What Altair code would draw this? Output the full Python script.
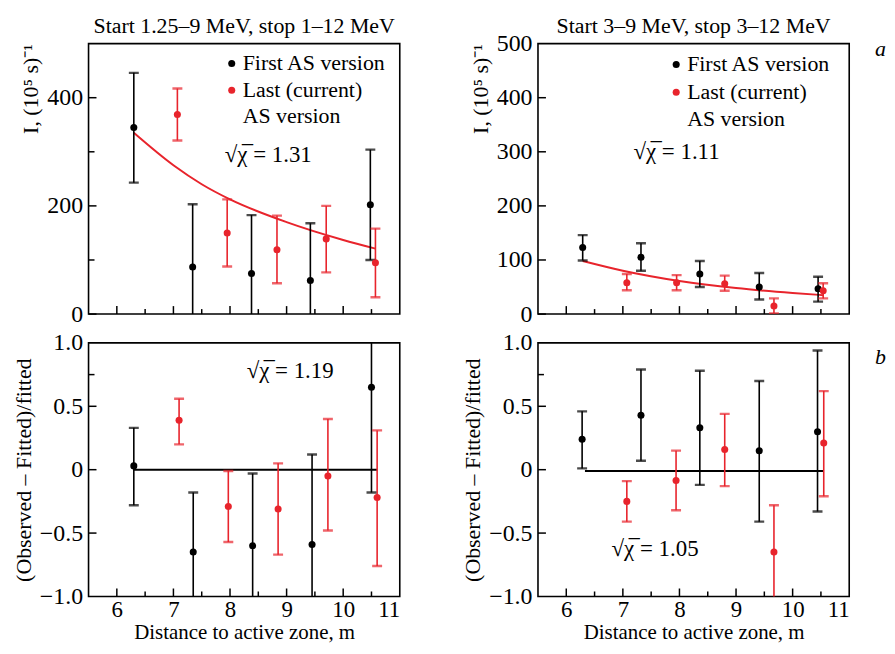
import altair as alt
import pandas as pd

FONT = "Liberation Serif, Times New Roman, Times, serif"
RED = "#e8242c"
W = 313
H_TOP = 272
H_BOT = 255

# ---------------- data ----------------
series_names = ["First", "Last"]
titles = ["Start 1.25\u20139 MeV, stop 1\u201312 MeV", "Start 3\u20139 MeV, stop 3\u201312 MeV"]
legend_labels = ["First AS version", "Last (current)", "AS version"]
chi_texts = ["\u221a\u03c7\u0305 = 1.31", "\u221a\u03c7\u0305 = 1.11", "\u221a\u03c7\u0305 = 1.19", "\u221a\u03c7\u0305 = 1.05"]
panel_letters = ["a", "b"]
ytitle_top = "I, (10\u2075 s)\u207b\u00b9"
ytitle_bot = "(Observed \u2013 Fitted)/fitted"
xtitle = "Distance to active zone, m"

x_major = [6, 7, 8, 9, 10]
x_minor = [6.5, 7.5, 8.5, 9.5, 10.5]
x_labels = [6, 7, 8, 9, 10, 11]

# top-left
tl_bx = [6.30, 7.34, 8.38, 9.42, 10.48]
tl_by = [345, 87, 75, 62, 202]
tl_blo = [243, -29, -33, -44, 100]
tl_bhi = [446, 203, 183, 168, 304]
tl_rx = [7.07, 7.95, 8.83, 9.70, 10.57]
tl_ry = [369, 150, 119, 139, 95]
tl_rlo = [321, 88, 57, 77, 31]
tl_rhi = [417, 212, 182, 200, 158]
tl_fit_x = [6.30, 7.0, 7.5, 8.0, 9.0, 10.0, 10.57]
tl_fit_y = [335, 275, 240, 212, 170, 137, 121]
tl_ylabels = [0, 200, 400]
tl_ymajor = [0, 200, 400]
tl_yminor = [100, 300]

# top-right
tr_bx = [6.29, 7.32, 8.36, 9.41, 10.45]
tr_by = [123, 105, 74, 50, 47]
tr_blo = [99, 80, 50, 27, 23]
tr_bhi = [146, 131, 98, 76, 69]
tr_rx = [7.07, 7.95, 8.80, 9.67, 10.54]
tr_ry = [58, 58, 56, 15, 43]
tr_rlo = [44, 44, 43, 1, 29]
tr_rhi = [74, 72, 71, 29, 57]
tr_fit_x = [6.29, 7.0, 8.0, 9.0, 10.0, 10.54]
tr_fit_y = [98, 80, 61, 48, 39, 35]
tr_ylabels = [0, 100, 200, 300, 400, 500]
tr_ymajor = [0, 100, 200, 300, 400]
tr_yminor = []

# bottom-left
bl_bx = [6.30, 7.35, 8.40, 9.45, 10.50]
bl_by = [0.03, -0.65, -0.60, -0.59, 0.65]
bl_blo = [-0.28, -1.12, -1.17, -1.30, -0.18]
bl_bhi = [0.33, -0.18, -0.03, 0.12, 1.48]
bl_rx = [7.10, 7.97, 8.85, 9.73, 10.60]
bl_ry = [0.39, -0.29, -0.31, -0.05, -0.22]
bl_rlo = [0.20, -0.57, -0.67, -0.48, -0.76]
bl_rhi = [0.56, -0.01, 0.05, 0.40, 0.31]
bl_zero_x = [6.30, 10.60]
bl_zero_y = [0.0, 0.0]

# bottom-right
br_bx = [6.28, 7.32, 8.36, 9.41, 10.44]
br_by = [0.24, 0.43, 0.33, 0.15, 0.30]
br_blo = [0.01, 0.07, -0.12, -0.41, -0.33]
br_bhi = [0.46, 0.79, 0.78, 0.70, 0.94]
br_rx = [7.07, 7.94, 8.80, 9.67, 10.55]
br_ry = [-0.25, -0.085, 0.16, -0.65, 0.21]
br_rlo = [-0.41, -0.32, -0.13, -1.02, -0.21]
br_rhi = [-0.09, 0.15, 0.44, -0.28, 0.62]
br_zero_x = [6.33, 10.55]
br_zero_y = [-0.01, -0.01]

bot_ylabels = [-1.0, -0.5, 0.0, 0.5, 1.0]
bot_ymajor = [-0.5, 0.0, 0.5]
bot_yminor = [0.75]


def make_df(bx, by, blo, bhi, rx, ry, rlo, rhi):
    rows = []
    for x, y, l, h in zip(bx, by, blo, bhi):
        rows.append(dict(x=x, y=y, lo=l, hi=h, s=series_names[0]))
    for x, y, l, h in zip(rx, ry, rlo, rhi):
        rows.append(dict(x=x, y=y, lo=l, hi=h, s=series_names[1]))
    return pd.DataFrame(rows)


color = alt.Color("s:N", scale=alt.Scale(domain=series_names, range=["black", RED]), legend=None)


def panel(df, line_x, line_y, line_color, ydom, ylabels, ymajor, yminor, height,
          ytitle, anchor, show_x, labelexpr, texts, legend, letter):
    xs = alt.Scale(domain=[5.5, 11], nice=False, zero=False)
    ys = alt.Scale(domain=ydom, nice=False, zero=False)
    if show_x:
        xaxis = alt.Axis(values=x_labels, ticks=False, domain=False, grid=False,
                         labelPadding=2, labelFontSize=23, title=xtitle, titlePadding=0,
                         titleFontSize=21, format="d")
    else:
        xaxis = None
    yaxis = alt.Axis(values=ylabels, ticks=False, domain=False, grid=False,
                     labelPadding=6, title=ytitle, titleAnchor=anchor, titlePadding=4,
                     labelExpr=labelexpr)

    def X(f):
        return alt.X(f, type="quantitative", scale=xs, axis=xaxis)

    def Y(f):
        return alt.Y(f, type="quantitative", scale=ys, axis=yaxis)

    base = alt.Chart(df)
    layers = []
    ldf = pd.DataFrame({"x": line_x, "y": line_y})
    layers.append(alt.Chart(ldf).mark_line(color=line_color, strokeWidth=2, interpolate="monotone",
                                            clip=True).encode(x=X("x"), y=Y("y")))
    layers.append(base.mark_rule(clip=True, strokeWidth=1.6).encode(x=X("x"), y=Y("lo"), y2="hi:Q", color=color))
    layers.append(base.mark_tick(clip=True, orient="horizontal", size=10, thickness=2.4).encode(
        x=X("x"), y=Y("lo"), color=color))
    layers.append(base.mark_tick(clip=True, orient="horizontal", size=10, thickness=2.4).encode(
        x=X("x"), y=Y("hi"), color=color))
    layers.append(base.mark_circle(size=50, opacity=1, clip=True).encode(x=X("x"), y=Y("y"), color=color))

    # inside ticks
    layers.append(alt.Chart(pd.DataFrame({"v": x_major})).mark_rule(color="black", strokeWidth=1.5).encode(
        x=X("v"), y=alt.value(height), y2=alt.value(height - 8)))
    layers.append(alt.Chart(pd.DataFrame({"v": x_minor})).mark_rule(color="black", strokeWidth=1.5).encode(
        x=X("v"), y=alt.value(height), y2=alt.value(height - 5)))
    layers.append(alt.Chart(pd.DataFrame({"v": ymajor})).mark_rule(color="black", strokeWidth=1.5).encode(
        y=Y("v"), x=alt.value(0), x2=alt.value(8)))
    if yminor:
        layers.append(alt.Chart(pd.DataFrame({"v": yminor})).mark_rule(color="black", strokeWidth=1.5).encode(
            y=Y("v"), x=alt.value(0), x2=alt.value(6)))

    for (t, px, py) in texts:
        layers.append(alt.Chart(pd.DataFrame({"t": [t]})).mark_text(
            align="left", baseline="middle", font=FONT, fontSize=23, color="black").encode(
            x=alt.value(px), y=alt.value(py), text="t:N"))

    if legend:
        (dx, tx, y1, y2, y3) = legend
        layers.append(alt.Chart(pd.DataFrame({"s": series_names, "yy": [y1, y2]})).mark_circle(
            size=50, opacity=1).encode(x=alt.value(dx), y=alt.Y("yy:Q", scale=None), color=color))
        for lab, yy in zip(legend_labels, [y1, y2, y3]):
            layers.append(alt.Chart(pd.DataFrame({"t": [lab]})).mark_text(
                align="left", baseline="middle", font=FONT, fontSize=22, color="black").encode(
                x=alt.value(tx), y=alt.value(yy), text="t:N"))

    if letter:
        (lt, ly) = letter
        layers.append(alt.Chart(pd.DataFrame({"t": [lt]})).mark_text(
            align="left", baseline="middle", font=FONT, fontSize=22, fontStyle="italic", color="black").encode(
            x=alt.value(W + 26), y=alt.value(ly), text="t:N"))

    return alt.layer(*layers).properties(width=W, height=height)


tl_expr = "format(datum.value, 'd')"
tr_expr = "format(datum.value, 'd')"
bot_expr = "datum.value == 0 ? '0' : format(datum.value, '.1f')"


def ttl(t, off):
    return alt.TitleParams(t, font=FONT, fontSize=22, fontWeight="normal", offset=off,
                           frame="group", color="black")


tl = panel(make_df(tl_bx, tl_by, tl_blo, tl_bhi, tl_rx, tl_ry, tl_rlo, tl_rhi),
           tl_fit_x, tl_fit_y, RED, [0, 500], tl_ylabels, tl_ymajor, tl_yminor, H_TOP,
           ytitle_top, "end", False, tl_expr,
           [(chi_texts[0], 137, 112)], (144, 155, 20, 47, 73), None).properties(title=ttl(titles[0], 6))

tr = panel(make_df(tr_bx, tr_by, tr_blo, tr_bhi, tr_rx, tr_ry, tr_rlo, tr_rhi),
           tr_fit_x, tr_fit_y, RED, [0, 500], tr_ylabels, tr_ymajor, tr_yminor, H_TOP,
           ytitle_top, "end", False, tr_expr,
           [(chi_texts[1], 96, 109)], (139, 150, 21, 49, 76), (panel_letters[0], 5)).properties(title=ttl(titles[1], -6))

bl = panel(make_df(bl_bx, bl_by, bl_blo, bl_bhi, bl_rx, bl_ry, bl_rlo, bl_rhi),
           bl_zero_x, bl_zero_y, "black", [-1, 1], bot_ylabels, bot_ymajor, bot_yminor, H_BOT,
           ytitle_bot, "middle", True, bot_expr,
           [(chi_texts[2], 159, 28)], None, None)

br = panel(make_df(br_bx, br_by, br_blo, br_bhi, br_rx, br_ry, br_rlo, br_rhi),
           br_zero_x, br_zero_y, "black", [-1, 1], bot_ylabels, bot_ymajor, bot_yminor, H_BOT,
           ytitle_bot, "middle", True, bot_expr,
           [(chi_texts[3], 74, 207)], None, (panel_letters[1], 14))

chart = alt.concat(tl, tr, bl, br, columns=2, spacing={"row": 3, "column": 60}).properties(
    padding={"top": 4, "left": 3, "right": 0, "bottom": 0}
).configure_view(stroke="black", strokeWidth=1.6).configure_axis(
    labelFont=FONT, labelFontSize=24, labelColor="black",
    titleFont=FONT, titleFontSize=22, titleFontWeight="normal", titleColor="black"
)

chart.save("out.html", embed_options={"renderer": "svg", "actions": False})
